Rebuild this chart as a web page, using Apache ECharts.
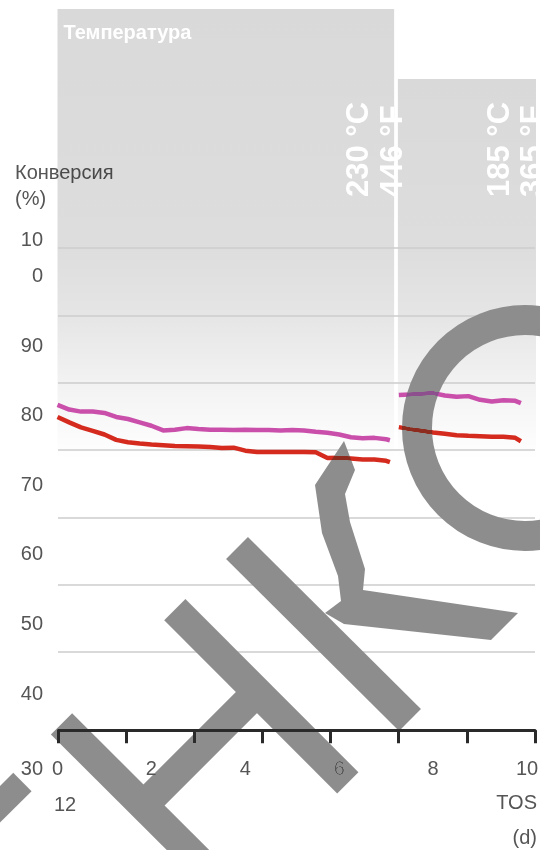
<!DOCTYPE html>
<html><head><meta charset="utf-8">
<script src="https://cdn.jsdelivr.net/npm/echarts@6/dist/echarts.min.js"></script>
<style>html,body{margin:0;padding:0;background:#fff}#c{width:540px;height:850px}</style>
</head><body><div id="c"></div>
<script>
// ---- data ----
const tosDays = [0,0.25,0.5,0.75,1,1.25,1.5,1.75,2,2.25,2.5,2.75,3,3.25,3.5,3.75,4,4.25,4.5,4.75,5,5.25,5.5,5.75,6,6.25,6.5,6.75,7,7.08,
  7.16,
  7.27,7.5,7.75,8,8.25,8.5,8.75,9,9.25,9.5,9.75,9.87];
const conversionMagenta = [76.7,76.0,75.7,75.7,75.5,74.9,74.6,74.1,73.6,72.9,73.0,73.25,73.1,73.0,73.0,72.95,73.0,72.95,72.95,72.9,72.95,72.9,72.7,72.55,72.3,71.9,71.75,71.8,71.6,71.45,
  null,
  78.15,78.25,78.35,78.45,78.1,77.9,78.0,77.45,77.2,77.4,77.3,76.95];
const conversionRed = [74.9,74.1,73.35,72.85,72.3,71.5,71.15,70.95,70.8,70.7,70.6,70.55,70.5,70.45,70.3,70.35,69.9,69.7,69.7,69.7,69.7,69.7,69.65,68.8,68.85,68.75,68.6,68.6,68.4,68.2,
  null,
  73.4,73.1,72.85,72.6,72.4,72.2,72.1,72.05,71.95,71.95,71.8,71.3];
const xTickLabels = ['0','2','4','6','8','10'];
const yTickLabels = ['30','40','50','60','70','80','90','100'];
const tempPeriods = [[0, 7.17], [7.25, null]];
const tempTexts = ['230 °C\n446 °F', '185 °C\n365 °F'];

const FONT = '"Liberation Sans", Arial, sans-serif';
const GREY = '#555';
const WM = '#8d8d8d';

const toSeries = vals => tosDays.map((d, i) => [d, vals[i] == null ? '-' : vals[i]]);

function areaGrad(stops) {
  return {type: 'linear', x: 0, y: 0, x2: 0, y2: 1,
    colorStops: stops.map(s => ({offset: s[0], color: 'rgba(0,0,0,' + s[1] + ')'}))};
}

const chart = echarts.init(document.getElementById('c'), null, {renderer: 'canvas'});
chart.setOption({
  animation: false,
  backgroundColor: '#fff',
  grid: [
    {left: 58, right: 5, top: 248, bottom: 130.7, outerBoundsMode: 'none', containLabel: false},
    {left: 57.5, right: 13, top: 248, bottom: 130.7, outerBoundsMode: 'none', containLabel: false},
    {left: 58, right: 5, top: 276.7, bottom: 86.4, outerBoundsMode: 'none', containLabel: false}
  ],
  xAxis: [
    {gridIndex: 0, type: 'value', min: 0, max: 14, interval: 2, offset: 11,
      axisLine: {show: true, lineStyle: {color: '#2a2a2a', width: 3}},
      axisTick: {show: true, length: 13, lineStyle: {color: '#2a2a2a', width: 3}},
      axisLabel: {show: false}, splitLine: {show: false}},
    {gridIndex: 1, type: 'value', min: 0, max: 10, interval: 2,
      axisLine: {show: false}, axisTick: {show: false}, splitLine: {show: false},
      axisLabel: {show: true, margin: 40, color: GREY, fontSize: 20, fontFamily: FONT,
        showMinLabel: true, showMaxLabel: true,
        formatter: v => xTickLabels[Math.round(v / 2)] || ''}},
    {gridIndex: 2, type: 'value', show: false, min: 0, max: 1}
  ],
  yAxis: [
    {gridIndex: 0, type: 'value', min: 30, max: 100, interval: 10, z: 1.5,
      axisLine: {show: false}, axisTick: {show: false}, axisLabel: {show: false},
      splitLine: {show: true, showMinLine: false, lineStyle: {color: '#cdcdcd', width: 1.5}}},
    {gridIndex: 1, type: 'value', min: 30, max: 100, interval: 10, show: false},
    {gridIndex: 2, type: 'value', min: 30, max: 100, interval: 10,
      axisLine: {show: false}, axisTick: {show: false}, splitLine: {show: false},
      axisLabel: {show: true, margin: 15, color: GREY, fontSize: 20, fontFamily: FONT,
        showMinLabel: true, showMaxLabel: true,
        formatter: v => {
          const t = yTickLabels[Math.round((v - 30) / 10)];
          if (t === '100') return '{n|10}\n{n|0}\n{n| }';
          if (t === '30') return '{d|30}';
          return t;
        },
        rich: {
          n: {fontSize: 20, lineHeight: 36.7, color: GREY, fontFamily: FONT, align: 'right'},
          d: {fontSize: 20, color: GREY, fontFamily: FONT, align: 'right', padding: [12, 0, 0, 0]}
        }}}
  ],
  series: [
    {type: 'line', name: 'magenta', xAxisIndex: 1, yAxisIndex: 1, clip: false,
      data: toSeries(conversionMagenta), showSymbol: false, symbol: 'none', connectNulls: false,
      lineStyle: {color: '#c94fab', width: 4.5}, z: 3,
      markArea: {silent: true, z: 1,
        data: [
          [{xAxis: tempPeriods[0][0], y: 9, itemStyle: {color: areaGrad([[0, 0.15], [0.529, 0.135], [0.678, 0.1], [0.829, 0.05], [1, 0]])},
             label: {show: true, position: 'insideTopLeft', offset: [1, 9], formatter: 'Температура',
               color: '#fff', fontSize: 20, fontWeight: 'bold', fontFamily: FONT}},
           {xAxis: tempPeriods[0][1], y: 460}],
          [{xAxis: tempPeriods[1][0], y: 79, itemStyle: {color: areaGrad([[0, 0.15], [0.445, 0.135], [0.62, 0.1], [0.798, 0.05], [1, 0]])},
             label: {show: false}},
           {x: 536, y: 460}]
        ]}},
    {type: 'line', name: 'red', xAxisIndex: 1, yAxisIndex: 1, clip: false,
      data: toSeries(conversionRed), showSymbol: false, symbol: 'none', connectNulls: false,
      lineStyle: {color: '#d52b1f', width: 4.5}, z: 3}
  ],
  graphic: [
    {type: 'text', x: 15, y: 173, silent: true, style: {text: 'Конверсия', fill: GREY, font: '20px ' + FONT, textAlign: 'left', textVerticalAlign: 'middle', verticalAlign: 'middle'}},
    {type: 'text', x: 15, y: 199, silent: true, style: {text: '(%)', fill: GREY, font: '20px ' + FONT, textAlign: 'left', textVerticalAlign: 'middle', verticalAlign: 'middle'}},
    {type: 'text', x: 342, y: 197, rotation: Math.PI / 2, silent: true, z: 5,
      style: {text: tempTexts[0], fill: '#fff', font: 'bold 31px ' + FONT, lineHeight: 34, textAlign: 'left', textVerticalAlign: 'top', verticalAlign: 'top'}},
    {type: 'text', x: 484, y: 197, rotation: Math.PI / 2, silent: true, z: 5,
      style: {text: tempTexts[1], fill: '#fff', font: 'bold 31px ' + FONT, lineHeight: 33, textAlign: 'left', textVerticalAlign: 'top', verticalAlign: 'top'}},
    {type: 'text', x: 65, y: 805, silent: true, style: {text: '12', fill: GREY, font: '20px ' + FONT, textAlign: 'center', textVerticalAlign: 'middle', verticalAlign: 'middle'}},
    {type: 'text', x: 537, y: 803, silent: true, style: {text: 'TOS', fill: GREY, font: '20px ' + FONT, textAlign: 'right', textVerticalAlign: 'middle', verticalAlign: 'middle'}},
    {type: 'text', x: 537, y: 838, silent: true, style: {text: '(d)', fill: GREY, font: '20px ' + FONT, textAlign: 'right', textVerticalAlign: 'middle', verticalAlign: 'middle'}},
    // watermark
    {type: 'group', z: 100, silent: true, children: [
      {type: 'polyline', z: 100, shape: {points: [[61.5, 723.8], [200, 862]]}, style: {stroke: WM, lineWidth: 30, lineCap: 'butt', fill: null, blend: 'darken'}},
      {type: 'polyline', z: 100, shape: {points: [[174.8, 609.7], [347.8, 782.8]]}, style: {stroke: WM, lineWidth: 30, lineCap: 'butt', fill: null, blend: 'darken'}},
      {type: 'polyline', z: 100, shape: {points: [[257, 692], [143.5, 805.5]]}, style: {stroke: WM, lineWidth: 30, lineCap: 'butt', fill: null, blend: 'darken'}},
      {type: 'polyline', z: 100, shape: {points: [[22.4, 782], [-40, 844]]}, style: {stroke: WM, lineWidth: 26, lineCap: 'butt', fill: null, blend: 'darken'}},
      {type: 'polyline', z: 100, shape: {points: [[237, 548], [410, 720]]}, style: {stroke: WM, lineWidth: 31, lineCap: 'butt', fill: null, blend: 'darken'}},
      {type: 'polygon', z: 100, shape: {points: [[344, 441], [355, 470], [345, 494], [350, 522], [365, 569], [363, 590], [518, 613], [491, 640], [344, 624], [325, 613], [341, 601], [338, 576], [322, 533], [315, 485]]},
        style: {fill: WM, stroke: null, blend: 'darken'}},
      {type: 'circle', z: 100, shape: {cx: 525, cy: 428, r: 108}, style: {stroke: WM, lineWidth: 30, fill: null, blend: 'darken'}}
    ]}
  ]
});
</script></body></html>
